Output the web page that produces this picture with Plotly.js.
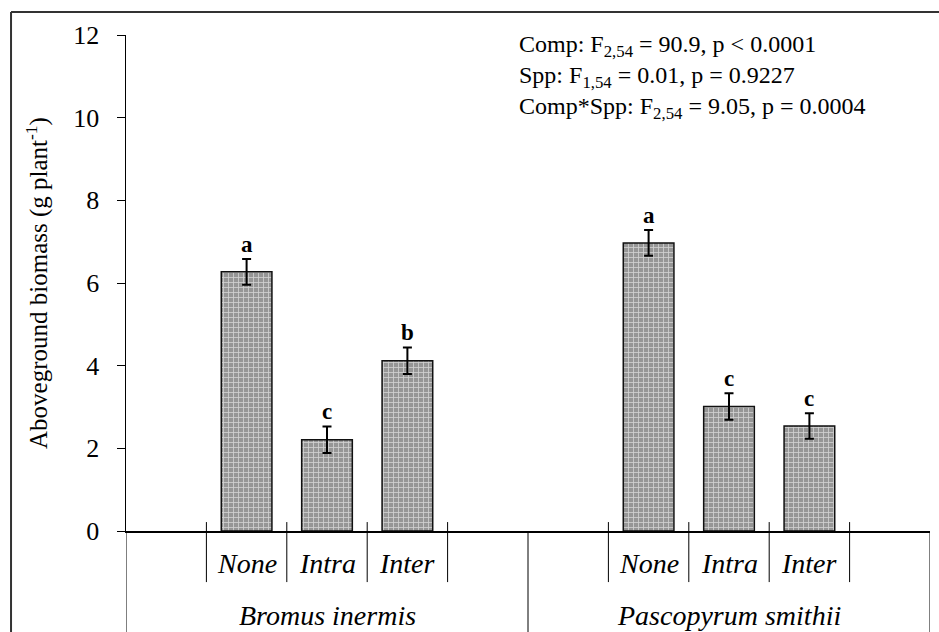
<!DOCTYPE html>
<html>
<head>
<meta charset="utf-8">
<script src="https://cdn.plot.ly/plotly-3.0.1.min.js"></script>
<style>html,body{margin:0;padding:0;background:#fff;}#chart{width:939px;height:632px;}</style>
</head>
<body>
<div id="chart"></div>
<script>
const groups = ['Bromus inermis', 'Pascopyrum smithii'];
const treatments = ['None', 'Intra', 'Inter'];
const bromusMean = [6.27, 2.21, 4.12];
const bromusSE = [0.31, 0.32, 0.32];
const pascoMean = [6.97, 3.01, 2.54];
const pascoSE = [0.31, 0.32, 0.31];
const bromusLetters = ['a', 'c', 'b'];
const pascoLetters = ['a', 'c', 'c'];
const yTicks = [0, 2, 4, 6, 8, 10, 12];
const statsLines = [
  'Comp: F<sub>2,54</sub> = 90.9, p &lt; 0.0001',
  'Spp: F<sub>1,54</sub> = 0.01, p = 0.9227',
  'Comp*Spp: F<sub>2,54</sub> = 9.05, p = 0.0004'
];

// layout: each group spans 5 units; bars occupy units 1..4 of it
const groupStart = [0, 5];
const means = [bromusMean, pascoMean];
const ses = [bromusSE, pascoSE];
const letters = [bromusLetters, pascoLetters];

const xs = [], ys = [], es = [], labs = [];
groups.forEach((g, gi) => {
  treatments.forEach((t, ti) => {
    xs.push(groupStart[gi] + 1.5 + ti);
    ys.push(means[gi][ti]);
    es.push(ses[gi][ti]);
    labs.push(letters[gi][ti]);
  });
});

const font = 'Liberation Serif, Times New Roman, serif';
const trace = {
  type: 'bar',
  x: xs, y: ys, width: 0.63,
  marker: {
    color: '#969696',
    line: {color: '#111', width: 1.5},
    pattern: {shape: '+', fgcolor: '#d2d2d2', bgcolor: '#969696', size: 5, solidity: 0.3}
  },
  error_y: {type: 'data', array: es, visible: true, color: '#000', thickness: 2, width: 4.5},
  hoverinfo: 'skip'
};

const annotations = [];
xs.forEach((x, i) => {
  annotations.push({x: x, y: ys[i] + es[i], xref: 'x', yref: 'y', text: '<b>' + labs[i] + '</b>',
    showarrow: false, yanchor: 'bottom', yshift: 0, font: {family: font, size: 23, color: '#000'}});
});
xs.forEach((x, i) => {
  annotations.push({x: x, y: -0.066, xref: 'x', yref: 'paper', text: '<i>' + treatments[i % 3] + '</i>',
    showarrow: false, yanchor: 'middle', font: {family: font, size: 28, color: '#000'}});
});
groups.forEach((g, gi) => {
  annotations.push({x: groupStart[gi] + 2.5, y: -0.170, xref: 'x', yref: 'paper', text: '<i>' + g + '</i>',
    showarrow: false, yanchor: 'middle', font: {family: font, size: 28, color: '#000'}});
});
annotations.push({x: 0.486, y: 1.012, xref: 'paper', yref: 'paper', xanchor: 'left', yanchor: 'top',
  align: 'left', showarrow: false, text: statsLines.join('<br>'), font: {family: font, size: 24, color: '#000'}});

const shapes = [];
groups.forEach((g, gi) => {
  for (let k = 1; k <= 4; k++) {
    const sx = groupStart[gi] + k;
    shapes.push({type: 'line', xref: 'x', yref: 'paper', x0: sx, x1: sx, y0: 0.018, y1: -0.103,
      line: {color: '#000', width: 1}});
  }
});
[0, 5, 10].forEach(sx => {
  shapes.push({type: 'line', xref: 'x', yref: 'paper', x0: sx, x1: sx, y0: 0, y1: -0.25,
    line: {color: '#000', width: 1}});
});
// outer frame (left and top)
shapes.push({type: 'line', xref: 'paper', yref: 'paper', x0: -0.143, x1: -0.143, y0: 1.0464, y1: -0.25,
  line: {color: '#333', width: 2}});
shapes.push({type: 'line', xref: 'paper', yref: 'paper', x0: -0.143, x1: 1.02, y0: 1.0464, y1: 1.0464,
  line: {color: '#333', width: 2}});

const layout = {
  width: 939, height: 632,
  margin: {l: 126, r: 9, t: 35, b: 101},
  paper_bgcolor: '#fff', plot_bgcolor: '#fff',
  showlegend: false,
  xaxis: {range: [0, 10], showline: true, linecolor: '#000', linewidth: 1.5, showgrid: false,
    zeroline: false, showticklabels: false, ticks: '', fixedrange: true},
  yaxis: {range: [0, 12], tickvals: yTicks, ticks: 'outside', ticklen: 8, tickcolor: '#000', tickwidth: 1,
    showline: true, linecolor: '#000', linewidth: 1.5, showgrid: false, zeroline: false,
    ticklabelstandoff: 12,
    tickfont: {family: font, size: 26, color: '#000'},
    title: {text: 'Aboveground biomass (g plant<sup>-1</sup>)', font: {family: font, size: 25, color: '#000'}, standoff: 18},
    automargin: true, fixedrange: true},
  annotations: annotations,
  shapes: shapes,
  bargap: 0
};

Plotly.newPlot('chart', [trace], layout, {displayModeBar: false, staticPlot: true});
</script>
</body>
</html>
